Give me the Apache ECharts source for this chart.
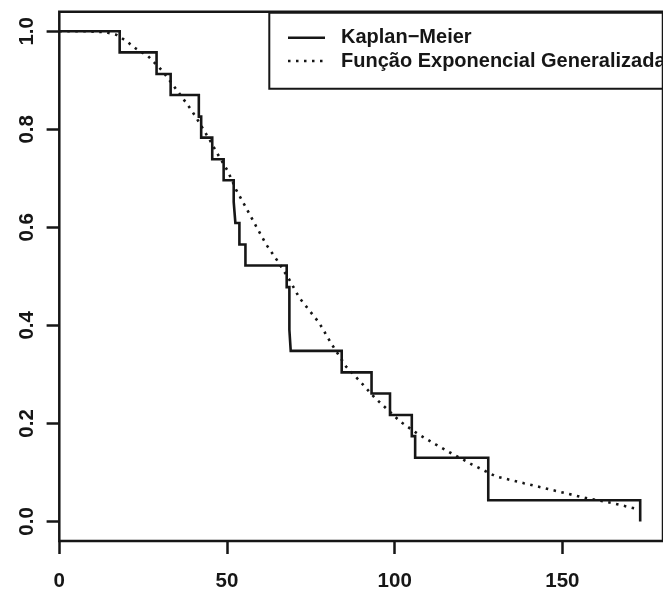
<!DOCTYPE html>
<html>
<head>
<meta charset="utf-8">
<script src="https://cdn.jsdelivr.net/npm/echarts@6/dist/echarts.min.js"></script>
<style>
html,body{margin:0;padding:0;background:#fff;}
#c{width:663px;height:592px;}
</style>
</head>
<body>
<div id="c"></div>
<script>
// Kaplan-Meier step estimates (time of event, survival after event)
const kmTime = [0, 18, 29, 33.2, 41.6, 42.3, 45.6, 49, 52, 52.5, 53.7, 55.5, 67.8, 68.6, 69, 84.2, 93.1, 98.6, 105.1, 106.1, 127.9, 173.2];
const kmSurv = [1, 0.957, 0.913, 0.870, 0.826, 0.783, 0.739, 0.696, 0.652, 0.609, 0.565, 0.522, 0.478, 0.391, 0.348, 0.304, 0.261, 0.217, 0.174, 0.130, 0.043, 0.0];

// Fitted generalized exponential survival curve
const fitTime = [0, 8, 14, 17, 19.6, 23.0, 26.5, 30.9, 35.9, 39.4, 41.8, 44.8, 47.0, 50.3, 52.7, 55.7, 58.7, 61.7, 65.1, 68.6, 71.6, 77.5, 81.0, 85.5, 89.9, 94.1, 97.1, 101.6, 106.8, 112.2, 117.7, 123.1, 130.1, 138.5, 146.4, 156.8, 164.7, 173.2];
const fitSurv = [1, 1.0, 0.998, 0.993, 0.982, 0.964, 0.949, 0.918, 0.872, 0.839, 0.813, 0.779, 0.752, 0.714, 0.677, 0.640, 0.602, 0.565, 0.531, 0.493, 0.456, 0.405, 0.364, 0.316, 0.284, 0.252, 0.233, 0.204, 0.179, 0.157, 0.136, 0.116, 0.092, 0.078, 0.065, 0.048, 0.0375, 0.024];

const xTicks = [0, 50, 100, 150];
const yTicks = [0, 0.2, 0.4, 0.6, 0.8, 1.0];
const seriesNames = ['Kaplan\u2212Meier', 'Fun\u00e7\u00e3o Exponencial Generalizada'];

const FONT = '"Liberation Sans", Arial, Helvetica, sans-serif';
const INK = '#161616';

const chart = echarts.init(document.getElementById('c'), null, {renderer: 'canvas'});
chart.setOption({
  animation: false,
  backgroundColor: '#fff',
  grid: {
    left: 59.3, top: 11.7, width: 605, height: 530,
    show: true, borderColor: INK, borderWidth: 2.5, backgroundColor: 'transparent'
  },
  graphic: [{
    type: 'rect', left: 268.3, top: 11.7, z: 5,
    shape: {width: 440, height: 76},
    style: {fill: 'transparent', stroke: INK, lineWidth: 2}
  }],
  legend: {
    left: 268.3, top: 11.7,
    orient: 'vertical',
    data: seriesNames,
    itemWidth: 37, itemHeight: 20, itemGap: 3.3,
    padding: [16, 0, 16, 18.4],
    borderWidth: 0,
    selectedMode: false,
    itemStyle: {opacity: 0},
    lineStyle: {width: 2.6},
    textStyle: {fontFamily: FONT, fontSize: 20, fontWeight: 'bold', color: INK, padding: [0, 0, 0, 11]}
  },
  xAxis: {
    type: 'value', min: 0, max: 180,
    axisLine: {show: false, onZero: false},
    splitLine: {show: false},
    axisTick: {show: true, length: 13, customValues: xTicks, lineStyle: {color: INK, width: 2.5}},
    axisLabel: {customValues: xTicks, margin: 30, fontFamily: FONT, fontSize: 20.5, fontWeight: 'bold', color: INK}
  },
  yAxis: {
    type: 'value', min: -0.04, max: 1.04,
    axisLine: {show: false, onZero: false},
    splitLine: {show: false},
    axisTick: {show: true, length: 12.7, customValues: yTicks, lineStyle: {color: INK, width: 2.5}},
    axisLabel: {customValues: yTicks, rotate: 90, margin: 21, fontFamily: FONT, fontSize: 20.5, fontWeight: 'bold', color: INK,
      formatter: v => v.toFixed(1)}
  },
  series: [
    {
      name: seriesNames[0], type: 'line', step: 'end', symbol: 'none',
      data: kmTime.map((t, i) => [t, kmSurv[i]]),
      lineStyle: {color: INK, width: 2.6, type: 'solid', cap: 'butt', join: 'miter'},
      itemStyle: {color: INK},
      z: 3
    },
    {
      name: seriesNames[1], type: 'line', symbol: 'none', smooth: false,
      data: fitTime.map((t, i) => [t, fitSurv[i]]),
      lineStyle: {color: INK, width: 2.6, type: [2.5, 5.5], cap: 'butt'},
      itemStyle: {color: INK},
      z: 2
    }
  ]
});
</script>
</body>
</html>
